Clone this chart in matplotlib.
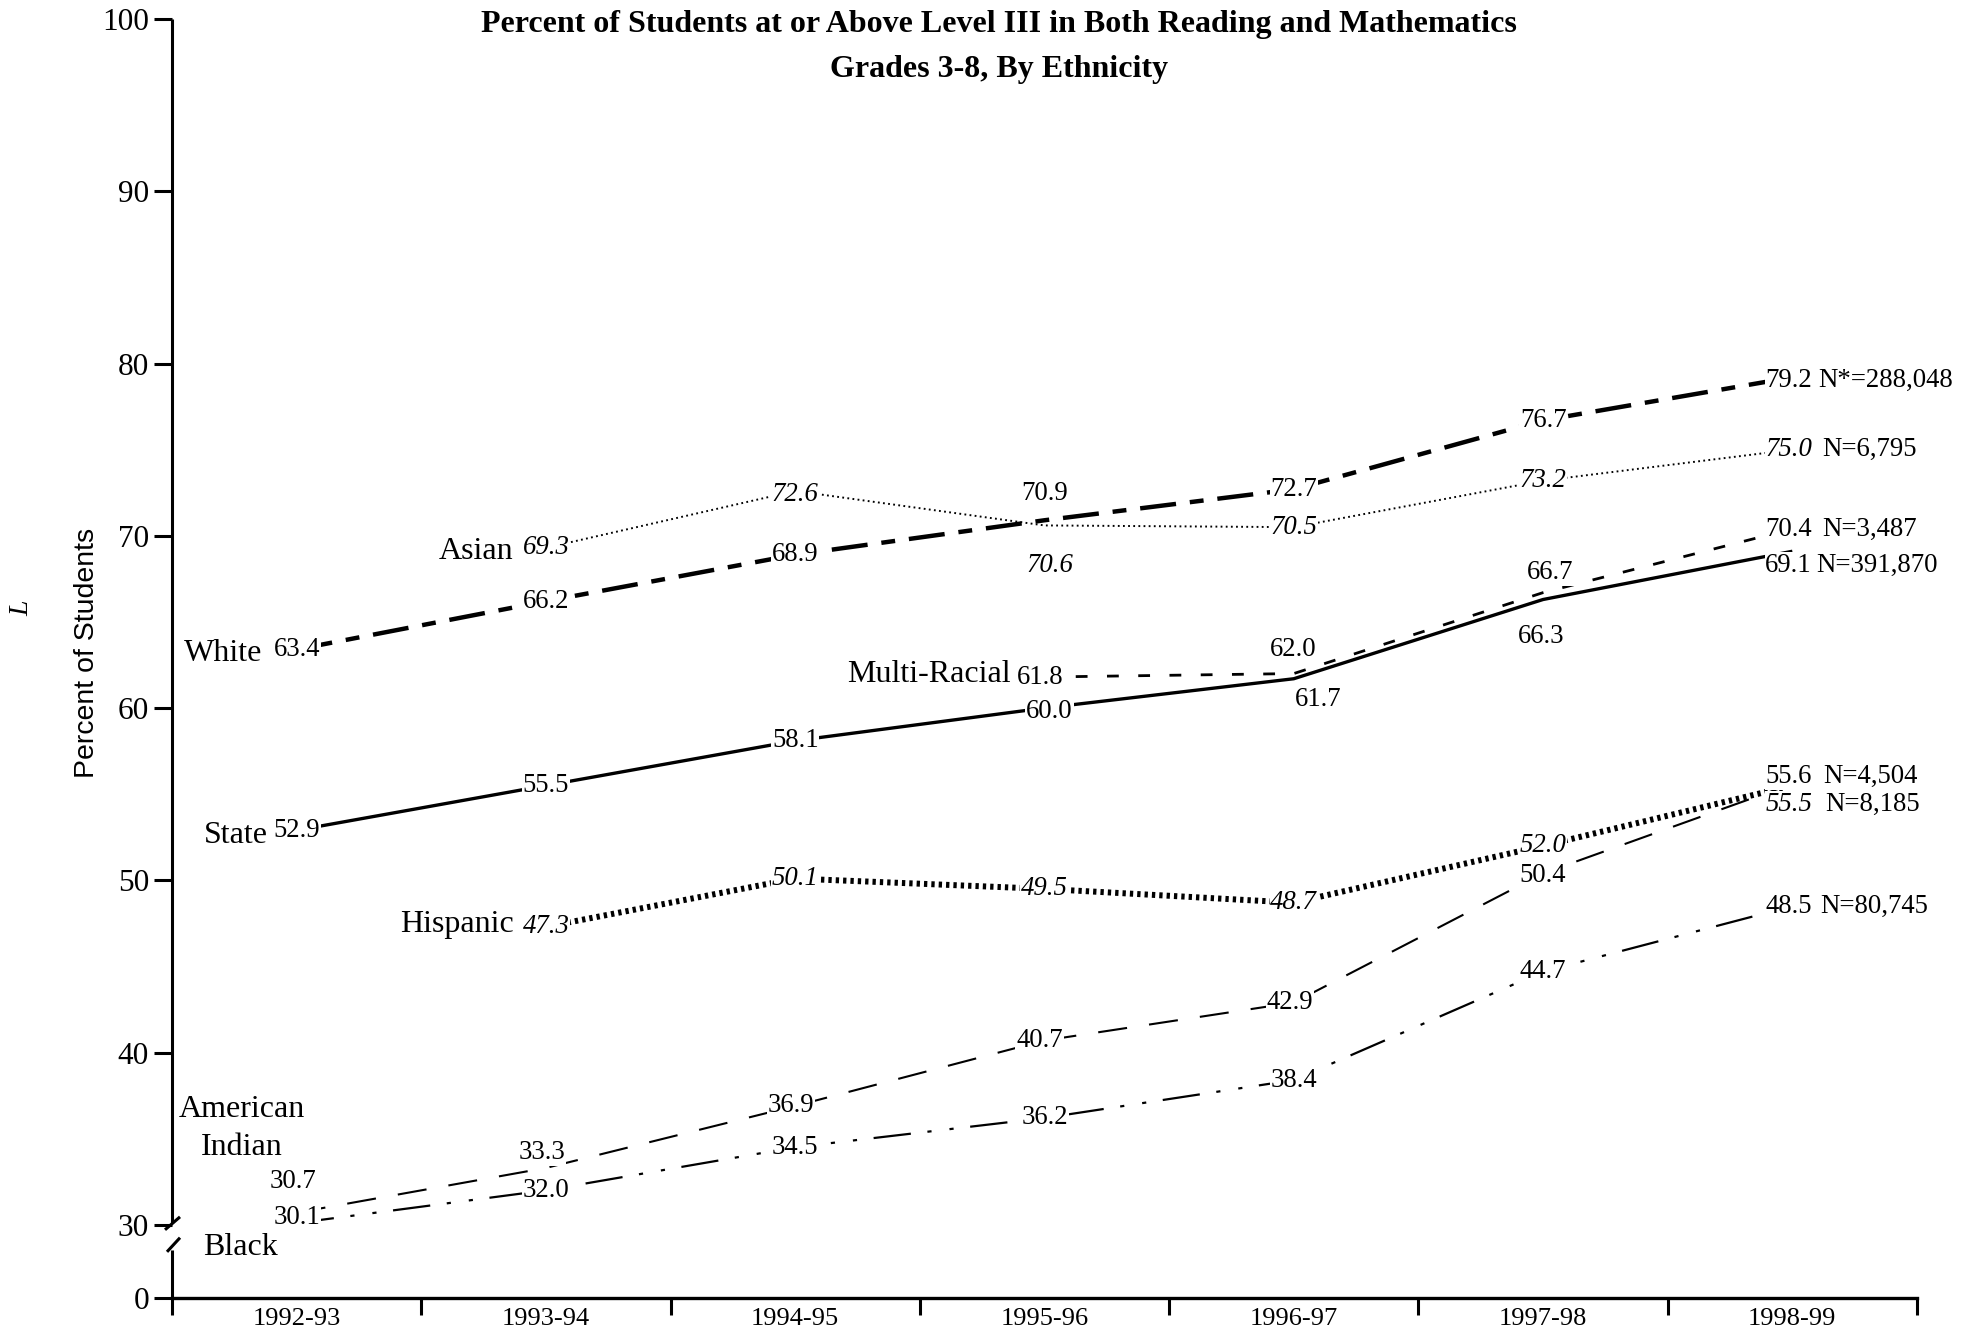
import numpy as np
import matplotlib
matplotlib.use("Agg")
import matplotlib.pyplot as plt
from matplotlib.transforms import blended_transform_factory

plt.rcParams['lines.scale_dashes'] = False
plt.rcParams['font.family'] = ['Liberation Serif', 'DejaVu Serif']

# ---------------- data ----------------
years = ['1992-93', '1993-94', '1994-95', '1995-96', '1996-97', '1997-98', '1998-99']
nan = np.nan
white = [63.4, 66.2, 68.9, 70.9, 72.7, 76.7, 79.2]
asian = [nan, 69.3, 72.6, 70.6, 70.5, 73.2, 75.0]
state = [52.9, 55.5, 58.1, 60.0, 61.7, 66.3, 69.1]
multi = [nan, nan, nan, 61.8, 62.0, 66.7, 70.4]
hispanic = [nan, 47.3, 50.1, 49.5, 48.7, 52.0, 55.5]
amind = [30.7, 33.3, 36.9, 40.7, 42.9, 50.4, 55.6]
black = [30.1, 32.0, 34.5, 36.2, 38.4, 44.7, 48.5]
names = ['White', 'Asian', 'State', 'Multi-Racial', 'Hispanic', 'American\nIndian', 'Black']
n_labels = ['N*=288,048', 'N=6,795', 'N=391,870', 'N=3,487', 'N=8,185', 'N=4,504', 'N=80,745']
yticks_vals = [30, 40, 50, 60, 70, 80, 90, 100]

title1 = 'Percent of Students at or Above Level III in Both Reading and Mathematics'
title2 = 'Grades 3-8, By Ethnicity'

# ---------------- styles / layout ----------------
series = [white, asian, state, multi, hispanic, amind, black]
styles = [
    dict(lw=3.2, dashes=(26, 10, 10, 10)),           # White
    dict(lw=1.4, dashes=(1.3, 2.4)),                # Asian
    dict(lw=2.4, linestyle='-'),                    # State
    dict(lw=2.0, dashes=(8.5, 14)),                 # Multi-Racial
    dict(lw=4.3, dashes=(2.4, 2.9)),                # Hispanic
    dict(lw=1.5, dashes=(21, 16)),                  # American Indian
    dict(lw=1.6, dashes=(27, 12, 3, 13, 3, 12)),    # Black
]
italic = [False, True, False, False, True, False, False]
offsets = [
    [(0, 0), (0, 0), (0, 0), (0, 27), (0, 0), (0, 0), (-27, -3)],
    [None, (0, 0), (0, -4), (5, -40), (0, 0), (0, 0), (-27, 0)],
    [(0, 0), (0, 0), (0, 0), (5, -3), (24, -21), (-2, -37), (-27, -14)],
    [None, None, None, (-4, 0), (-1, 24), (7, 20), (-27, -1)],
    [None, (0, 0), (0, 0), (0, 0), (0, 0), (0, 0), (-27, -19)],
    [(-4, 31), (-4, 15), (-4, 0), (-5, 0), (-4, 0), (0, -2), (-27, 7)],
    [(0, 6), (0, 0), (0, 0), (0, 0), (0, 0), (0, 0), (-27, 0)],
]
n_dx = [26, 30, 24, 30, 33, 31, 28]
name_off = [(-34, -4, 'right'), (-33, -4, 'right'), (-29, -5, 'right'), (-34, 3, 'right'),
            (-32, 2, 'right'), (-55, 84, 'center'), (-56, -24, 'center')]

BREAK_ZERO = 25.75   # display position of the "0" below the axis break

VAL_FS = 19.3
NAME_FS = 23

fig = plt.figure(figsize=(19.75, 13.38), dpi=100)
ax = fig.add_axes([0.08709, 0.02990, 0.88354, 0.95590])

x = np.arange(len(years))
for s, st in zip(series, styles):
    kw = dict(color='black', zorder=2)
    if 'dashes' in st:
        ax.plot(x, s, lw=st['lw'], dashes=st['dashes'], dash_capstyle='butt', **kw)
    else:
        ax.plot(x, s, lw=st['lw'], linestyle='-', solid_capstyle='butt', **kw)

bb = dict(facecolor='white', edgecolor='none', pad=0.6)
for k, s in enumerate(series):
    first = None
    for i, v in enumerate(s):
        if np.isnan(v):
            continue
        if first is None:
            first = i
        dx, dy = offsets[k][i]
        ha = 'left' if i == len(years) - 1 else 'center'
        ax.annotate(f'{v:.1f}', (x[i], v), xytext=(dx, dy), textcoords='offset pixels',
                    ha=ha, va='center', fontsize=VAL_FS,
                    style='italic' if italic[k] else 'normal', bbox=bb, zorder=5)
    last = len(years) - 1
    dx, dy = offsets[k][last]
    ax.annotate(n_labels[k], (x[last], s[last]), xytext=(n_dx[k], dy),
                textcoords='offset pixels', ha='left', va='center', fontsize=VAL_FS, zorder=5)
    ndx, ndy, nha = name_off[k]
    ax.annotate(names[k], (x[first], s[first]), xytext=(ndx, ndy), textcoords='offset pixels',
                ha=nha, va='center', fontsize=NAME_FS, linespacing=1.4, zorder=5)

# axes
ax.set_xlim(-0.5, len(years) - 0.5)
ax.set_ylim(BREAK_ZERO, 100)
ax.set_xticks(np.arange(-0.5, len(years), 1.0))
ax.set_xticklabels([])
ax.set_xticks(x, minor=True)
ax.set_xticklabels(years, minor=True, fontsize=19)
ax.tick_params(axis='x', which='major', direction='out', length=12, width=2.2)
ax.tick_params(axis='x', which='minor', length=0, pad=7.5)
ax.set_yticks([BREAK_ZERO] + yticks_vals)
ax.set_yticklabels(['0'] + [str(v) for v in yticks_vals], fontsize=22.5)
ax.tick_params(axis='y', direction='out', length=13, width=2.2, pad=3.6)

for sp in ['top', 'right', 'left']:
    ax.spines[sp].set_visible(False)
ax.spines['bottom'].set_linewidth(2.4)

# broken left axis
tr = blended_transform_factory(ax.transAxes, ax.transData)
px = 1.0 / (0.88354 * 1975)
lk = dict(color='black', lw=2.2, transform=tr, clip_on=False, solid_capstyle='butt')
ax.plot([0, 0], [30.1, 100], **lk)
ax.plot([0, 0], [BREAK_ZERO, 28.55], **lk)
ax.plot([-7 * px, 8 * px], [29.71, 30.46], **lk)
ax.plot([-5 * px, 8 * px], [28.43, 29.25], **lk)

# titles and labels
fig.text(0.5058, 0.982, title1, ha='center', va='center', fontsize=23, fontweight='bold')
fig.text(0.5058, 0.948, title2, ha='center', va='center', fontsize=23, fontweight='bold')
fig.text(0.0441, 0.5120, 'Percent of Students', rotation=90, ha='center', va='center',
         fontsize=20.5, family=['Liberation Sans', 'DejaVu Sans'])
fig.text(0.0111, 0.5456, 'L', rotation=90, ha='center', va='center', fontsize=20, style='italic')

fig.savefig('out.png', dpi=100)
